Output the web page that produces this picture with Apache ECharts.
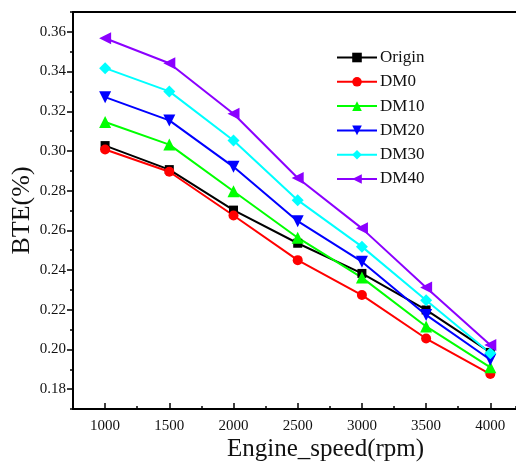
<!DOCTYPE html>
<html>
<head>
<meta charset="utf-8">
<script src="https://cdn.jsdelivr.net/npm/echarts@6/dist/echarts.min.js"></script>
<style>
  html, body { margin: 0; padding: 0; background: #fff; }
  #chart { width: 516px; height: 462px; }
</style>
</head>
<body>
<div id="chart"></div>
<script>
// Engine speed (rpm) and brake thermal efficiency per fuel blend
const speeds = [1000, 1500, 2000, 2500, 3000, 3500, 4000];
const origin = [0.3027, 0.2906, 0.2702, 0.2535, 0.2383, 0.2199, 0.1985];
const dm0    = [0.3007, 0.2895, 0.2675, 0.2450, 0.2274, 0.2055, 0.1876];
const dm10   = [0.3146, 0.3032, 0.2797, 0.2563, 0.2362, 0.2116, 0.1910];
const dm20   = [0.3271, 0.3154, 0.2920, 0.2646, 0.2442, 0.2174, 0.1948];
const dm30   = [0.3417, 0.3300, 0.3053, 0.2752, 0.2518, 0.2248, 0.1981];
const dm40   = [0.3568, 0.3442, 0.3187, 0.2864, 0.2610, 0.2312, 0.2022];

const xTickLabels = [1000, 1500, 2000, 2500, 3000, 3500, 4000];
const yTickLabels = [0.18, 0.20, 0.22, 0.24, 0.26, 0.28, 0.30, 0.32, 0.34, 0.36];

const font = '"Liberation Serif", "Times New Roman", serif';

function pairs(vals) { return speeds.map((s, i) => [s, vals[i]]); }

function mkSeries(name, vals, color, symbol, size, rotate) {
  return {
    name: name,
    type: 'line',
    data: pairs(vals),
    xAxisIndex: 0,
    yAxisIndex: 0,
    symbol: symbol,
    symbolSize: size,
    symbolRotate: rotate || 0,
    showAllSymbol: true,
    lineStyle: { color: color, width: 2 },
    itemStyle: { color: color },
    emphasis: { disabled: true },
    animation: false
  };
}

const chart = echarts.init(document.getElementById('chart'), null, { renderer: 'canvas' });

chart.setOption({
  backgroundColor: '#ffffff',
  animation: false,
  grid: { left: 73, top: 12, right: 0, bottom: 53, containLabel: false, outerBoundsMode: 'none' },
  legend: {
    orient: 'vertical',
    left: 331,
    top: 44,
    itemWidth: 40,
    itemHeight: 12,
    itemGap: 7.3,
    textStyle: { fontFamily: font, fontSize: 17, color: '#111', lineHeight: 16, padding: [0, 0, 0, -2] },
    data: ['Origin', 'DM0', 'DM10', 'DM20', 'DM30', 'DM40']
  },
  xAxis: [
    {
      type: 'value', min: 750, max: 4200, position: 'bottom',
      name: 'Engine_speed(rpm)', nameLocation: 'middle', nameGap: 28, nameMoveOverlap: false,
      nameTextStyle: { fontFamily: font, fontSize: 25, color: '#111', padding: [0, 0, 0, 62] },
      axisLine: { show: true, onZero: false, lineStyle: { color: '#000', width: 2 } },
      axisTick: { show: true, inside: true, length: 6, lineStyle: { color: '#000', width: 1.5 }, customValues: xTickLabels },
      axisLabel: { fontFamily: font, fontSize: 15, color: '#111', margin: 10,
                   formatter: v => String(v), customValues: xTickLabels },
      splitLine: { show: false }
    },
    {
      // minor ticks every 250 rpm
      type: 'value', min: 750, max: 4200, interval: 250, position: 'bottom',
      axisLine: { show: false },
      axisTick: { show: true, inside: true, length: 3, lineStyle: { color: '#000', width: 1.5 } },
      axisLabel: { show: false },
      splitLine: { show: false }
    },
    {
      // top frame line
      type: 'value', min: 750, max: 4200, position: 'top',
      axisLine: { show: true, onZero: false, lineStyle: { color: '#000', width: 2 } },
      axisTick: { show: false }, axisLabel: { show: false }, splitLine: { show: false }
    }
  ],
  yAxis: [
    {
      type: 'value', min: 0.17, max: 0.37, position: 'left',
      name: 'BTE(%)', nameLocation: 'middle', nameGap: 38, nameRotate: 90, nameMoveOverlap: false,
      nameTextStyle: { fontFamily: font, fontSize: 26, color: '#111' },
      axisLine: { show: true, onZero: false, lineStyle: { color: '#000', width: 2 } },
      axisTick: { show: true, inside: false, length: 6, lineStyle: { color: '#000', width: 1.5 }, customValues: yTickLabels },
      axisLabel: { fontFamily: font, fontSize: 15, color: '#111', margin: 7,
                   formatter: v => v.toFixed(2), customValues: yTickLabels },
      splitLine: { show: false }
    },
    {
      // minor ticks every 0.01
      type: 'value', min: 0.17, max: 0.37, interval: 0.01, position: 'left',
      axisLine: { show: false },
      axisTick: { show: true, inside: false, length: 3, lineStyle: { color: '#000', width: 1.5 } },
      axisLabel: { show: false },
      splitLine: { show: false }
    }
  ],
  series: [
    mkSeries('Origin', origin, '#000000', 'rect', 9),
    mkSeries('DM0', dm0, '#ff0000', 'circle', 10),
    mkSeries('DM10', dm10, '#00ff00', 'triangle', 12),
    mkSeries('DM20', dm20, '#0000ff', 'triangle', 12, 180),
    mkSeries('DM30', dm30, '#00ffff', 'diamond', 12),
    mkSeries('DM40', dm40, '#8b00ff', 'triangle', 12, 90)
  ]
});
</script>
</body>
</html>
